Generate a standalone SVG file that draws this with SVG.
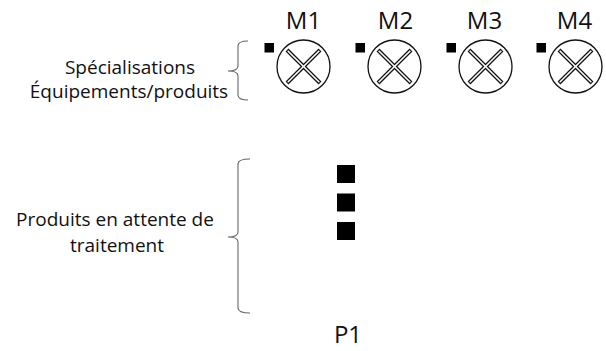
<svg xmlns="http://www.w3.org/2000/svg" width="606" height="351" viewBox="0 0 606 351">
<style>
.lbl{font-family:"Open Sans","Liberation Sans",sans-serif;font-size:19px;fill:#111;text-anchor:middle}
.big{font-family:"Open Sans","Liberation Sans",sans-serif;font-size:24px;fill:#111;text-anchor:middle}
.ring{fill:#fff;stroke:#111;stroke-width:1.3}
.xo{stroke:#111;stroke-width:4;fill:none}
.xi{stroke:#fff;stroke-width:1.6;fill:none}
.brace{fill:none;stroke:#666;stroke-width:1.1}
.sq{fill:#000}
</style>
<defs>
<g id="machine">
<circle class="ring" cx="0" cy="0" r="26.5"/>
<line class="xo" x1="-16.5" y1="-16.5" x2="16.5" y2="16.5"/>
<line class="xo" x1="16.5" y1="-16.5" x2="-16.5" y2="16.5"/>
<line class="xi" x1="-15.8" y1="-15.8" x2="15.8" y2="15.8"/>
<line class="xi" x1="15.8" y1="-15.8" x2="-15.8" y2="15.8"/>
<rect class="sq" x="-39" y="-23.5" width="9.5" height="9.5"/>
</g>
</defs>
<g id="label-specialisations">
<text class="lbl" x="130" y="74">Spécialisations</text>
<text class="lbl" x="129" y="98">Équipements/produits</text>
</g>
<g id="label-attente">
<text class="lbl" x="115" y="226">Produits en attente de</text>
<text class="lbl" x="117" y="252">traitement</text>
</g>
<g id="connectors">
<path class="brace" d="M248 41 Q238 41 238 46 L238 66 Q238 71 228 71 Q238 71 238 76 L238 95 Q238 100 248 100"/>
<path class="brace" d="M250 159 Q238 159 238 164 L238 232 Q238 237 228 237 Q238 237 238 242 L238 308 Q238 313 250 313"/>
</g>
<g id="M1"><use href="#machine" x="303.5" y="66.5"/><text class="big" x="303.5" y="29">M1</text></g>
<g id="M2"><use href="#machine" x="394.5" y="66.5"/><text class="big" x="395.5" y="29">M2</text></g>
<g id="M3"><use href="#machine" x="485.5" y="66.5"/><text class="big" x="484.5" y="29">M3</text></g>
<g id="M4"><use href="#machine" x="575.5" y="66.5"/><text class="big" x="574.5" y="29">M4</text></g>
<g id="P1">
<rect class="sq" x="337" y="165" width="18" height="18"/>
<rect class="sq" x="337" y="193.5" width="18" height="18"/>
<rect class="sq" x="337" y="222" width="18" height="18"/>
<text class="big" x="348" y="343">P1</text>
</g>
</svg>
